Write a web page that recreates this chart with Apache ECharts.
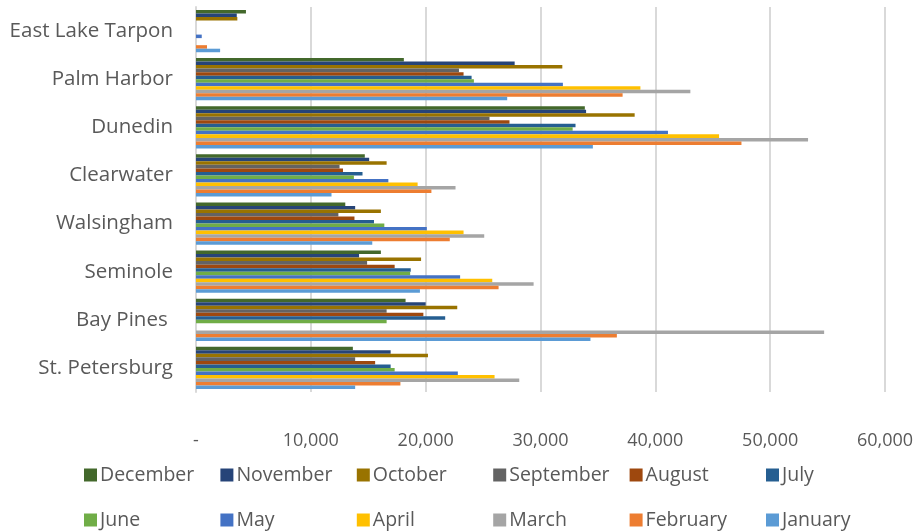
<!DOCTYPE html>
<html>
<head>
<meta charset="utf-8">
<script src="https://cdn.jsdelivr.net/npm/echarts@6/dist/echarts.min.js"></script>
<style>
  html, body { margin: 0; padding: 0; background: #fff; }
  #main { width: 920px; height: 532px; }
</style>
</head>
<body>
<div id="main"></div>
<script>
// categories, bottom to top
var branches = ['St. Petersburg', 'Bay Pines ', 'Seminole', 'Walsingham', 'Clearwater', 'Dunedin', 'Palm Harbor', 'East Lake Tarpon'];
var xTicks = [0, 10000, 20000, 30000, 40000, 50000, 60000];

var january   = [13860, 34350, 19500, 15350, 11800, 34560, 27100, 2100];
var february  = [17800, 36650, 26350, 22100, 20500, 47500, 37150, 960];
var march     = [28150, 54700, 29400, 25100, 22600, 53300, 43050, 0];
var april     = [26000, 0, 25800, 23300, 19300, 45550, 38700, 0];
var may       = [22800, 0, 23000, 20100, 16750, 41100, 31950, 500];
var june      = [17300, 16600, 18650, 16400, 13750, 32800, 24200, 0];
var july      = [16950, 21700, 18700, 15500, 14500, 33050, 24000, 0];
var august    = [15600, 19800, 17300, 13800, 12800, 27300, 23300, 0];
var september = [13860, 16600, 14900, 12400, 12500, 25560, 22900, 0];
var october   = [20200, 22750, 19600, 16100, 16600, 38200, 31900, 3600];
var november  = [16950, 20000, 14200, 13860, 15080, 33970, 27750, 3550];
var december  = [13660, 18250, 16100, 13000, 14700, 33860, 18100, 4350];

var months = [
    { name: 'December', data: december, color: '#43682B' },
    { name: 'November', data: november, color: '#264478' },
    { name: 'October', data: october, color: '#997300' },
    { name: 'September', data: september, color: '#636363' },
    { name: 'August', data: august, color: '#9E480E' },
    { name: 'July', data: july, color: '#255E91' },
    { name: 'June', data: june, color: '#70AD47' },
    { name: 'May', data: may, color: '#4472C4' },
    { name: 'April', data: april, color: '#FFC000' },
    { name: 'March', data: march, color: '#A5A5A5' },
    { name: 'February', data: february, color: '#ED7D31' },
    { name: 'January', data: january, color: '#5B9BD5' }
];

var txt = '#595959';
var font = 'Open Sans';

// one legend per item so the columns line up like the original
var legends = months.map(function (m, i) {
    return {
        data: [m.name],
        left: 79 + (i % 6) * 136.4,
        top: i < 6 ? 460 : 505,
        itemWidth: 13,
        itemHeight: 13,
        itemGap: 0,
        icon: 'rect',
        textStyle: { color: txt, fontSize: 19.5, fontFamily: font, padding: [0, 0, 0, -2] }
    };
});

var chart = echarts.init(document.getElementById('main'));
chart.setOption({
    animation: false,
    grid: { left: 196, right: 35, top: 7, bottom: 140 },
    legend: legends,
    xAxis: {
        type: 'value',
        min: xTicks[0],
        max: xTicks[xTicks.length - 1],
        interval: 10000,
        axisLine: { show: false },
        axisTick: { show: false },
        splitLine: { lineStyle: { color: '#d9d9d9', width: 2 } },
        axisLabel: {
            margin: 40,
            color: txt,
            fontSize: 18,
            fontFamily: font,
            formatter: function (v) {
                return v === 0 ? '-' : v.toLocaleString('en-US');
            }
        }
    },
    yAxis: {
        type: 'category',
        data: branches,
        axisLine: { lineStyle: { color: '#d9d9d9', width: 2 } },
        axisTick: { show: false },
        axisLabel: { margin: 23, color: txt, fontSize: 20.5, fontFamily: font }
    },
    series: months.map(function (m) {
        return {
            name: m.name,
            type: 'bar',
            data: m.data,
            barGap: '0%',
            barCategoryGap: '12%',
            itemStyle: { color: m.color }
        };
    })
});
</script>
</body>
</html>
